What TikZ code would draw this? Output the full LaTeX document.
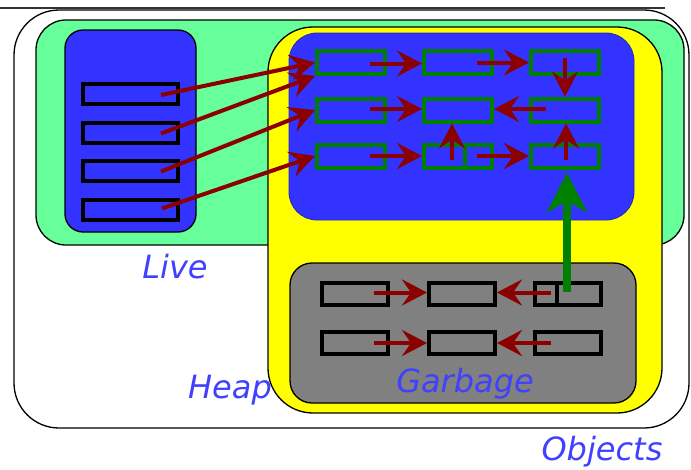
\documentclass[tikz,border=0pt]{standalone}
\usepackage{fontspec}
\newfontfamily\lblfont{DejaVu Sans}
\usetikzlibrary{arrows.meta,calc}
\definecolor{livegreen}{HTML}{66FF99}
\definecolor{boxblue}{HTML}{3333FF}
\definecolor{heapyellow}{HTML}{FFFF00}
\definecolor{garbgray}{HTML}{808080}
\definecolor{ptrred}{HTML}{8B0000}
\definecolor{objgreen}{HTML}{008000}
\definecolor{lblblue}{HTML}{4040FF}
\begin{document}
\begin{tikzpicture}[x=1pt,y=-1pt,
  region/.style={draw=black, line width=1.3pt, inner sep=0pt, outer sep=0pt},
  liveobj/.style={draw=black, line width=4pt, fill=boxblue, minimum width=95pt, minimum height=20pt, inner sep=0pt},
  heapobj/.style={draw=objgreen, line width=4pt, fill=boxblue, minimum width=68pt, minimum height=23pt, inner sep=0pt},
  garbobj/.style={draw=black, line width=4pt, fill=garbgray, minimum width=66pt, minimum height=22pt, inner sep=0pt},
  ptr/.style={draw=ptrred, line width=4pt, -{Stealth[length=25pt,width=26pt,inset=9pt]}},
  gptr/.style={draw=objgreen, line width=7.5pt, -{Stealth[length=40pt,width=40pt,inset=12pt]}},
  lbl/.style={text=lblblue, font=\lblfont\itshape\fontsize{32}{36}\selectfont, inner sep=0pt, anchor=base}
]
\useasboundingbox (0,0) rectangle (691,469);
\draw[line width=1.5pt, black!80] (0,8) -- (665,8);

% regions
\node[region, fill=white, rounded corners=45pt, minimum width=675pt, minimum height=418pt] (objects) at (351.5,219) {};
\node[region, fill=livegreen, rounded corners=30pt, minimum width=648pt, minimum height=225pt] (live) at (360,132.5) {};
\node[region, fill=heapyellow, rounded corners=45pt, minimum width=394pt, minimum height=386pt] (heap) at (465,220) {};
\node[draw=boxblue!75!black, line width=0.8pt, fill=boxblue, rounded corners=28pt, minimum width=345pt, minimum height=187pt, inner sep=0pt] (heaplive) at (461.5,126.5) {};
\node[region, fill=garbgray, rounded corners=22pt, minimum width=346pt, minimum height=140pt] (garbage) at (463,333) {};
\node[region, fill=boxblue, rounded corners=18pt, minimum width=131pt, minimum height=202pt] (roots) at (130.5,131) {};

% root objects
\node[liveobj] (l1) at (130.5,94) {};
\node[liveobj] (l2) at (130.5,132.5) {};
\node[liveobj] (l3) at (130.5,170.5) {};
\node[liveobj] (l4) at (130.5,209.5) {};

% live heap objects
\node[heapobj] (n11) at (351,62.5) {};
\node[heapobj] (n12) at (458,62.5) {};
\node[heapobj] (n13) at (565,62.5) {};
\node[heapobj] (n21) at (351,110) {};
\node[heapobj] (n22) at (458,110) {};
\node[heapobj] (n23) at (565,110) {};
\node[heapobj] (n31) at (351,156) {};
\node[heapobj] (n32) at (458,156) {};
\node[heapobj] (n33) at (565,156) {};
\draw[objgreen, line width=4pt] ($(n32.north)+(7,0)$) -- ($(n32.south)+(7,0)$);

% garbage objects
\node[garbobj] (g11) at (355,293.5) {};
\node[garbobj] (g12) at (462,293.5) {};
\node[garbobj] (g13) at (568,293.5) {};
\node[garbobj] (g21) at (355,343) {};
\node[garbobj] (g22) at (462,343) {};
\node[garbobj] (g23) at (568,343) {};
\draw[black, line width=4pt] ($(g13.north)+(-11,0)$) -- ($(g13.south)+(-11,0)$);

% pointers from roots
\draw[ptr] ($(l1.east)+(-19,1)$) -- (n11.west);
\draw[ptr] ($(l2.east)+(-19,1)$) -- (n11.south west);
\draw[ptr] ($(l3.east)+(-19,1)$) -- (n21.west);
\draw[ptr] ($(l4.east)+(-18,-1)$) -- (n31.west);

% pointers inside live heap
\draw[ptr] ($(n11.east)+(-17,1)$) -- ($(n12.west)+(0,1)$);
\draw[ptr] ($(n12.east)+(-17,0)$) -- (n13.west);
\draw[ptr] ($(n13.center)+(0,-5)$) -- (n23.north);
\draw[ptr] ($(n21.east)+(-17,-1)$) -- ($(n22.west)+(0,-1)$);
\draw[ptr] ($(n23.center)+(-19,-1)$) -- ($(n22.east)+(0,-1)$);
\draw[ptr] ($(n31.east)+(-17,0)$) -- (n32.west);
\draw[ptr] ($(n32.east)+(-17,0)$) -- (n33.west);
\draw[ptr] ($(n32.center)+(-6,4)$) -- ($(n22.south)+(-6,0)$);
\draw[ptr] ($(n33.center)+(1,4)$) -- ($(n23.south)+(1,0)$);

% pointers inside garbage
\draw[ptr] ($(g11.east)+(-16,-1)$) -- ($(g12.west)+(0,-1)$);
\draw[ptr] ($(g13.center)+(-17,-1)$) -- ($(g12.east)+(0,-1)$);
\draw[ptr] ($(g21.east)+(-16,0)$) -- (g22.west);
\draw[ptr] ($(g23.center)+(-17,0)$) -- (g22.east);

% garbage object pointing to live object
\draw[gptr] ($(g13.center)+(-1,-2)$) -- ($(g13.center |- n33.south)+(-1,3)$);

% labels
\node[lbl] (livelbl) at (175,278) {Live};
\node[lbl] (heaplbl) at (230,398) {Heap};
\node[lbl] (garblbl) at (465,392) {Garbage};
\node[lbl] (objlbl) at (602,460) {Objects};
\end{tikzpicture}
\end{document}
